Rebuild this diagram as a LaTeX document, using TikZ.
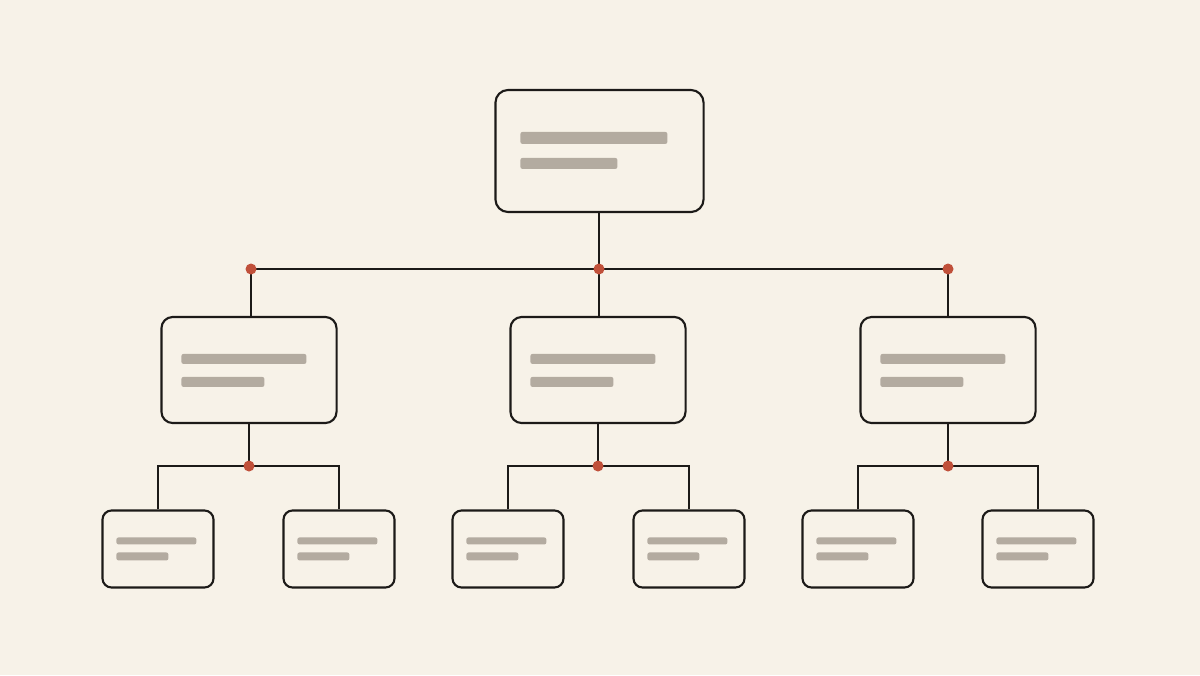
\documentclass[tikz,border=0pt]{standalone}
\usetikzlibrary{calc}
\definecolor{paper}{HTML}{F7F2E8}
\definecolor{barg}{HTML}{B3ABA0}
\definecolor{dotred}{HTML}{C0503A}
\definecolor{ink}{HTML}{1C1A18}

\begin{document}
\begin{tikzpicture}[x=0.01cm, y=-0.01cm,
  box/.style={draw=ink, line width=0.6pt, fill=paper, inner sep=0pt},
  topbox/.style={box, minimum width=2.08cm, minimum height=1.22cm, rounded corners=3.6pt},
  midbox/.style={box, minimum width=1.75cm, minimum height=1.06cm, rounded corners=3.2pt},
  leafbox/.style={box, minimum width=1.11cm, minimum height=0.77cm, rounded corners=2.6pt},
  link/.style={draw=ink, line width=0.55pt},
  joint/.style={circle, fill=dotred, inner sep=0pt, minimum size=0.11cm},
  bar/.style={fill=barg, rounded corners=0.6pt}]
  \fill[paper] (0,0) rectangle (1200,675);
  \useasboundingbox (0,0) rectangle (1200,675);

  % boxes
  \node[topbox] (top) at (599.5,151) {};
  \node[midbox] (m1) at (249,370) {};
  \node[midbox] (m2) at (598,370) {};
  \node[midbox] (m3) at (948,370) {};
  \node[leafbox] (l1a) at (158,549) {};
  \node[leafbox] (l1b) at (339,549) {};
  \node[leafbox] (l2a) at (508,549) {};
  \node[leafbox] (l2b) at (689,549) {};
  \node[leafbox] (l3a) at (858,549) {};
  \node[leafbox] (l3b) at (1038,549) {};

  % junctions
  \coordinate (jt) at (599,269);
  \coordinate (jl) at (251,269);
  \coordinate (jr) at (948,269);
  \coordinate (j1) at (249,466);
  \coordinate (j2) at (598,466);
  \coordinate (j3) at (948,466);

  % connectors
  \draw[link] (jt |- top.south) -- (jt);
  \draw[link] (jl) -- (jr);
  \draw[link] (jl) -- (jl |- m1.north);
  \draw[link] (jt) -- (jt |- m2.north);
  \draw[link] (jr) -- (m3.north);
  \draw[link] (m1.south) -- (j1);
  \draw[link] (m2.south) -- (j2);
  \draw[link] (m3.south) -- (j3);
  \draw[link] (l1a.north) |- (j1) -| (l1b.north);
  \draw[link] (l2a.north) |- (j2) -| (l2b.north);
  \draw[link] (l3a.north) |- (j3) -| (l3b.north);

  \node[joint] (djt) at (jt) {};
  \node[joint] (djl) at (jl) {};
  \node[joint] (djr) at (jr) {};
  \node[joint] (dj1) at (j1) {};
  \node[joint] (dj2) at (j2) {};
  \node[joint] (dj3) at (j3) {};

  % placeholder bars
  \fill[bar] ($(top.north west)+(26,43)$) rectangle ++(147,12);
  \fill[bar] ($(top.north west)+(26,69)$) rectangle ++(97,11);
  \foreach \b in {m1,m2,m3} {
    \fill[bar] ($(\b.north west)+(21,38)$) rectangle ++(125,10);
    \fill[bar] ($(\b.north west)+(21,61)$) rectangle ++(83,10);
  }
  \foreach \b in {l1a,l1b,l2a,l2b,l3a,l3b} {
    \fill[bar] ($(\b.north west)+(15,28)$) rectangle ++(80,7);
    \fill[bar] ($(\b.north west)+(15,43)$) rectangle ++(52,8);
  }
\end{tikzpicture}
\end{document}
